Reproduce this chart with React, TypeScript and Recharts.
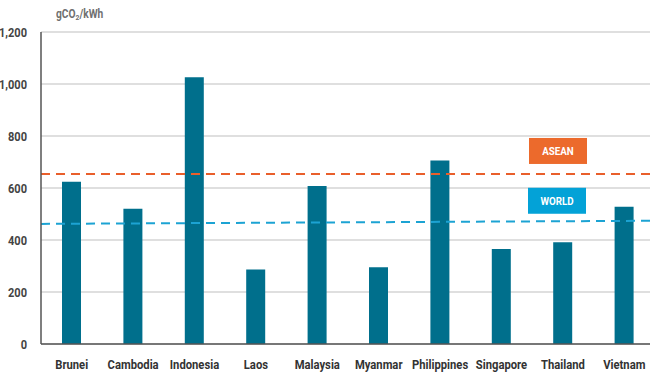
import React from 'react';
import { BarChart, Bar, XAxis, YAxis, CartesianGrid, ReferenceLine } from 'recharts';

const countries = ['Brunei', 'Cambodia', 'Indonesia', 'Laos', 'Malaysia', 'Myanmar', 'Philippines', 'Singapore', 'Thailand', 'Vietnam'];
const intensity = [624, 520, 1026, 287, 608, 295, 706, 365, 391, 528];
const yTicks = [0, 200, 400, 600, 800, 1000, 1200];
const aseanAverage = 654;
const worldStart = 462;
const worldEnd = 474;

const data = countries.map((c, i) => ({ country: c, value: intensity[i] }));
const lastIndex = countries.length - 1;

const FONT = 'Roboto, "Noto Sans", sans-serif';

const fmt = (v: number) => v.toLocaleString('en-US');

const XTick = (props: any) => {
  const { x, y, payload } = props;
  return (
    <g transform={`translate(${x},${y})`}>
      <text transform="scale(0.9,1)" textAnchor="middle" dy="0.71em" fill="#333" fontFamily={FONT} fontWeight="bold" fontSize={12.5}>
        {payload.value}
      </text>
    </g>
  );
};

const YTick = (props: any) => {
  const { x, y, payload } = props;
  return (
    <g transform={`translate(${x},${y})`}>
      <text transform="scale(0.85,1)" textAnchor="end" dy="0.355em" fill="#444" fontFamily={FONT} fontWeight="bold" fontSize={13}>
        {fmt(payload.value)}
      </text>
    </g>
  );
};

const boxLabel = (text: string, fill: string, dx: number, dy: number) => (props: any) => {
  const vb = props.viewBox || {};
  const x = (vb.x ?? 0) + dx;
  const y = (vb.y ?? 0) + dy;
  return (
    <g>
      <rect x={x} y={y} width={58} height={26} fill={fill} />
      <g transform={`translate(${x + 29},${y + 13})`}>
        <text transform="scale(0.85,1)" textAnchor="middle" dy="0.36em" fill="#fff" fontFamily={FONT} fontWeight="bold" fontSize={11.5}>
          {text}
        </text>
      </g>
    </g>
  );
};

export default function App() {
  return (
    <div style={{ position: 'absolute', left: 0, top: 0, width: 650, height: 372, overflow: 'hidden', background: '#fff' }}>
      <div style={{ position: 'absolute', left: 56, top: 7, fontFamily: FONT, fontSize: 12, color: '#707070', fontWeight: 'bold', whiteSpace: 'nowrap', transform: 'scaleX(0.85)', transformOrigin: 'left top' }}>
        gCO<sub style={{ fontSize: 8, verticalAlign: '-2px' }}>2</sub>/kWh
      </div>
      <BarChart width={660} height={372} data={data} margin={{ top: 32, right: 5, bottom: 0, left: 0 }} barCategoryGap={0}>
        <CartesianGrid vertical={false} stroke="#d4d4d4" strokeWidth={1.5} />
        <XAxis
          dataKey="country"
          height={28}
          tickLine={false}
          tickMargin={10}
          axisLine={{ stroke: '#555', strokeWidth: 1.5 }}
          tick={<XTick />}
          interval={0}
        />
        <XAxis xAxisId="num" type="number" domain={[0, lastIndex]} allowDataOverflow hide />
        <YAxis
          width={41}
          domain={[0, 1200]}
          ticks={yTicks}
          tickLine={false}
          tickMargin={8}
          axisLine={{ stroke: '#555', strokeWidth: 1.5 }}
          tick={<YTick />}
        />
        <Bar dataKey="value" fill="#006F8C" barSize={19} isAnimationActive={false} />
        <ReferenceLine
          y={aseanAverage}
          stroke="#E95F2B"
          strokeWidth={2}
          strokeDasharray="9 6"
          label={boxLabel('ASEAN', '#EC6A2C', 488, -36)}
        />
        <ReferenceLine
          xAxisId="num"
          segment={[{ x: 0, y: worldStart }, { x: lastIndex, y: worldEnd }]}
          stroke="#1CA3D3"
          strokeWidth={2}
          strokeDasharray="9 6"
          label={boxLabel('WORLD', '#03A2D7', 487, -33)}
        />
      </BarChart>
    </div>
  );
}
